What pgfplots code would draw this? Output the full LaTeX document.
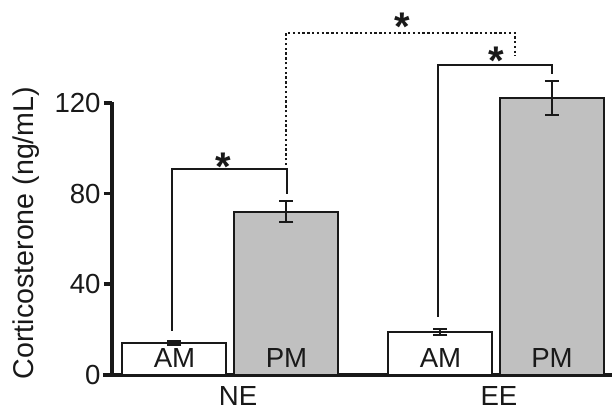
\documentclass[border=0pt]{standalone}
\usepackage{fontspec}
\setmainfont{Liberation Sans}
\usepackage{pgfplots}
\pgfplotsset{compat=1.18}
\definecolor{barg}{RGB}{192,192,192}
\definecolor{ink}{RGB}{25,25,25}
\newcommand{\tl}{\fontsize{13.8}{16}\selectfont}
\begin{document}
\fontsize{13.5}{16}\selectfont
\begin{tikzpicture}[font=\tl]
\begin{axis}[
  x=0.5pt, y=1.1333pt,
  xmin=112, xmax=612, ymin=0, ymax=120,
  axis x line*=bottom, axis y line*=left,
  axis line style={draw=none},
  ytick={0,40,80,120},
  yticklabels={{\tl 0},{\tl 40},{\tl 80},{\tl 120}},
  yticklabel style={xshift=-1pt, text=ink},
  ytick style={draw=none},
  xtick={238,499}, xticklabels={{\tl NE},{\tl EE}},
  xticklabel style={yshift=-1pt, text=ink},
  xtick style={draw=none},
  clip=false,
  ylabel={Corticosterone (ng/mL)},
  every axis y label/.style={at={(axis cs:26,62.6)}, rotate=90, anchor=center, font=\fontsize{14.3}{16}\selectfont, text=ink},
]
% axis lines and ticks
\draw[line width=1.9pt, ink] (axis cs:103,0) -- (axis cs:612,0);
\draw[line width=1.9pt, ink] (axis cs:112,0) -- (axis cs:112,120.4);
\draw[line width=1.9pt, ink] (axis cs:104,40) -- (axis cs:112,40);
\draw[line width=1.9pt, ink] (axis cs:104,80) -- (axis cs:112,80);
\draw[line width=1.9pt, ink] (axis cs:104,120) -- (axis cs:112,120);
\addplot[ybar, bar width=52pt, bar shift=0pt, fill=white, draw=ink, line width=1pt,
  error bars/.cd, y dir=both, y explicit,
  error bar style={line width=1pt, ink},
  error mark options={rotate=90, mark size=3.5pt, line width=1pt, ink}]
  coordinates {(174.5,14.1) +- (0,0.7) (440.5,19.0) +- (0,1.2)};
\addplot[ybar, bar width=52pt, bar shift=0pt, fill=barg, draw=ink, line width=1pt,
  error bars/.cd, y dir=both, y explicit,
  error bar style={line width=1pt, ink},
  error mark options={rotate=90, mark size=3.5pt, line width=1pt, ink}]
  coordinates {(286.5,72.0) +- (0,4.7) (552,122.0) +- (0,7.5)};
% bar labels
\node[anchor=base, text=ink] at (axis cs:174.5,3.1) {AM};
\node[anchor=base, text=ink] at (axis cs:286.5,3.1) {PM};
\node[anchor=base, text=ink] at (axis cs:440.5,3.1) {AM};
\node[anchor=base, text=ink] at (axis cs:552,3.1) {PM};
% brackets
\draw[line width=1pt, ink] (axis cs:172,19.4) -- (axis cs:172,91) -- (axis cs:287,91) -- (axis cs:287,79.8);
\draw[line width=1pt, ink] (axis cs:438,25.6) -- (axis cs:438,136.7) -- (axis cs:552,136.7) -- (axis cs:552,132.8);
\draw[line width=1.3pt, ink, dash pattern=on 1.2pt off 1.2pt] (axis cs:286,92.5) -- (axis cs:286,150.9) -- (axis cs:515,150.9) -- (axis cs:515,140.7);
% stars
\node[anchor=base, text=ink, yshift=-11.5pt, inner sep=0pt, font=\fontsize{20}{24}\selectfont\bfseries] at (axis cs:223,95.7) {*};
\node[anchor=base, text=ink, yshift=-11.5pt, inner sep=0pt, font=\fontsize{20}{24}\selectfont\bfseries] at (axis cs:496,142.5) {*};
\node[anchor=base, text=ink, yshift=-11.5pt, inner sep=0pt, font=\fontsize{20}{24}\selectfont\bfseries] at (axis cs:402,157.5) {*};
\coordinate (bl) at (axis cs:0,-16.3);
\coordinate (tr) at (axis cs:612,165.4);
\end{axis}
\pgfresetboundingbox
\path (bl) rectangle (tr);
\end{tikzpicture}
\end{document}
